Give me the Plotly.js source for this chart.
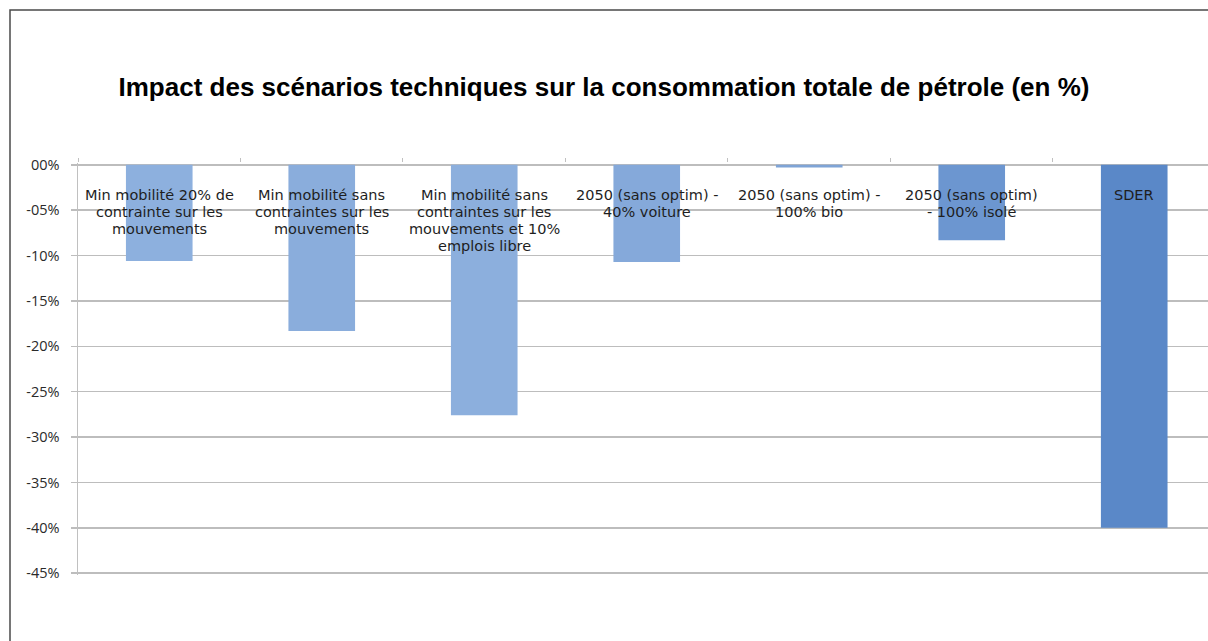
<!DOCTYPE html>
<html>
<head>
<meta charset="utf-8">
<script src="https://cdn.plot.ly/plotly-3.0.1.min.js"></script>
<style>
html,body{margin:0;padding:0;background:#fff;}
#chart{width:1208px;height:641px;}
</style>
</head>
<body>
<div id="chart"></div>
<script>
const categories = [
  "Min mobilité 20% de<br>contrainte sur les<br>mouvements",
  "Min mobilité sans<br>contraintes sur les<br>mouvements",
  "Min mobilité sans<br>contraintes sur les<br>mouvements et 10%<br>emplois libre",
  "2050 (sans optim) -<br>40% voiture",
  "2050 (sans optim) -<br>100% bio",
  "2050 (sans optim)<br>- 100% isolé",
  "SDER"
];
const values = [-10.6, -18.3, -27.6, -10.7, -0.3, -8.3, -40.0];
const tickVals = [0, -5, -10, -15, -20, -25, -30, -35, -40, -45];
const tickText = ["00%", "-05%", "-10%", "-15%", "-20%", "-25%", "-30%", "-35%", "-40%", "-45%"];
const barColors = ["#8db0de", "#8aaddc", "#8cafdd", "#85a9da", "#7fa4d6", "#6c96d0", "#5a88c8"];

const trace = {
  type: "bar",
  x: categories,
  y: values,
  width: 0.41,
  marker: {color: barColors, line: {width: 0}},
  hoverinfo: "skip"
};

const annotations = [];
categories.forEach(c => {
  c.split("<br>").forEach((line, i) => {
    annotations.push({
      x: c, y: 0, xref: "x", yref: "y",
      xanchor: "center", yanchor: "middle", yshift: -30 - i * 17,
      text: line, showarrow: false, align: "center", borderpad: 0,
      font: {family: "DejaVu Sans, sans-serif", size: 14.5, color: "#1e1e1e"}
    });
  });
});

const W = 1130, H = 641 - 163 - 66;
const layout = {
  width: 1208, height: 641,
  margin: {l: 78, r: 0, t: 163, b: 66},
  paper_bgcolor: "#ffffff",
  plot_bgcolor: "#ffffff",
  showlegend: false,
  title: {
    text: "<b>Impact des scénarios techniques sur la consommation totale de pétrole (en %)</b>",
    font: {family: "Liberation Sans, Arial, sans-serif", size: 26, color: "#000"},
    x: 604/1208, xanchor: "center", xref: "container",
    y: 1 - 87/641, yanchor: "middle", yref: "container"
  },
  xaxis: {
    type: "category",
    range: [-0.5, 6.454],
    side: "top",
    showticklabels: false,
    ticks: "outside", tickson: "boundaries", ticklen: 4, tickcolor: "#c0c0c0",
    showgrid: false, zeroline: false, showline: false,
    fixedrange: true
  },
  yaxis: {
    range: [-45.2, 0.2],
    tickvals: tickVals, ticktext: tickText,
    tickfont: {family: "Open Sans, sans-serif", size: 14.5, color: "#2a2a2a"},
    ticks: "outside", ticklen: 6, tickcolor: "#bdbdbd", tickwidth: 1.5,
    ticklabelstandoff: 8,
    showgrid: true, gridcolor: "#bdbdbd", gridwidth: 1.5,
    zeroline: false,
    showline: true, linecolor: "#c0c0c0", linewidth: 1.5,
    fixedrange: true
  },
  annotations: annotations,
  shapes: [{
    type: "path", xref: "paper", yref: "paper",
    path: `M ${(10-78)/W} ${(575-700)/H} L ${(10-78)/W} ${1 + (163-10)/H} L 1.05 ${1 + (163-10)/H}`,
    line: {color: "#4a4a4a", width: 1.5}
  }]
};

Plotly.newPlot("chart", [trace], layout, {displayModeBar: false, staticPlot: true});
</script>
</body>
</html>
